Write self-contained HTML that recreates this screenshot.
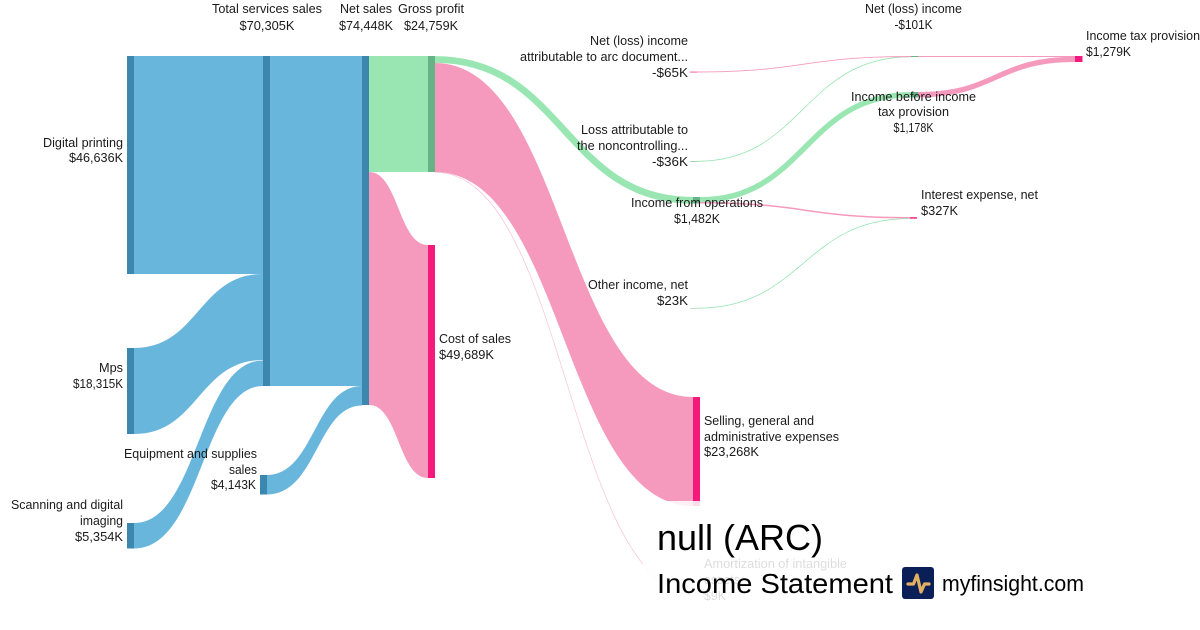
<!DOCTYPE html>
<html>
<head>
<meta charset="utf-8">
<style>
html,body{margin:0;padding:0;background:#fff;width:1200px;height:630px;overflow:hidden}
svg{display:block}
text{font-family:"Liberation Sans",sans-serif;font-size:12.8px;fill:#1a1a1a}
.b{fill:#69b6dd}
.g{fill:#99e6b2}
.p{fill:#f59abd}
.tg{fill:none;stroke:#99e6b2}
.tp{fill:none;stroke:#f59abd}
.nb{fill:#3c87ae}.ng{fill:#66b385}.np{fill:#f5197b}
.e{text-anchor:end}.m{text-anchor:middle}
</style>
</head>
<body>
<svg width="1200" height="630" viewBox="0 0 1200 630" xmlns="http://www.w3.org/2000/svg">
<!-- links -->
<rect class="b" x="134" y="56" width="129" height="218"/>
<path class="b" d="M134 348C198.500 348 198.500 274 263 274V360C198.500 360 198.500 434 134 434Z"/>
<path class="b" d="M134 523C198.500 523 198.500 360.500 263 360.500V386C202 386 202 548.500 134 548.500Z"/>
<rect class="b" x="270" y="56" width="92" height="330"/>
<path class="b" d="M267 475C314.500 475 314.500 386 362 386V405.500C317 405.500 317 494.500 267 494.500Z"/>
<rect class="g" x="369" y="56" width="59" height="116"/>
<path class="p" d="M369 172C398.500 172 398.500 245 428 245V478C398.500 478 398.500 405 369 405Z"/>
<path class="tg" stroke-width="6.800" d="M435 59.500C564 59.500 564 200.300 693 200.300"/>
<path class="p" d="M435 63C564 63 564 397 693 397V506C564 506 564 172 435 172Z"/>
<path class="tp" stroke-width="0.700" stroke-opacity="0.600" d="M435 172.300C567 172.300 567 596 700 596"/>
<path class="tg" stroke-width="5.500" d="M700 199.800C805 199.800 805 94.700 911 94.700"/>
<path class="tp" stroke-width="1.500" d="M700 202.700C805 202.700 805 217.700 910 217.700"/>
<path class="tg" stroke-width="0.800" d="M697 308.200C803 308.200 803 218.500 910 218.500"/>
<path class="tg" stroke-width="0.800" d="M697 161.300C803 161.300 803 56.800 911 56.800"/>
<path class="tp" stroke-width="0.900" d="M697 72C803 72 803 56.500 911 56.500"/>
<path class="tp" stroke-width="0.900" d="M918 56.500H1075"/>
<path class="tp" stroke-width="5.300" d="M918 94.700C996 94.700 996 59.400 1075 59.400"/>
<!-- nodes -->
<rect class="nb" x="127" y="56" width="7" height="218"/>
<rect class="nb" x="127" y="348" width="7" height="86"/>
<rect class="nb" x="127" y="523" width="7" height="25.500"/>
<rect class="nb" x="263" y="56" width="7" height="330"/>
<rect class="nb" x="260" y="475" width="7" height="19.500"/>
<rect class="nb" x="362" y="56" width="7" height="349"/>
<rect class="ng" x="428" y="56" width="7" height="116"/>
<rect class="np" x="428" y="245" width="7" height="233"/>
<rect class="ng" x="693" y="197" width="7" height="6.500"/>
<rect class="np" x="693" y="397" width="7" height="109"/>
<rect class="ng" x="690" y="161" width="7" height="0.600"/>
<rect class="np" x="690" y="71.700" width="7" height="0.700"/>
<rect class="ng" x="690" y="308" width="7" height="0.400"/>
<rect class="ng" x="911" y="92" width="7" height="5.500"/>
<rect class="ng" x="911" y="56" width="7" height="1"/>
<rect class="np" x="910" y="217" width="7" height="1.800" fill-opacity="0.800"/>
<rect class="np" x="1075" y="56" width="7.500" height="6"/>
<!-- labels -->
<text x="267" y="13" class="m" textLength="110" lengthAdjust="spacingAndGlyphs">Total services sales</text>
<text x="267" y="30" class="m" textLength="55" lengthAdjust="spacingAndGlyphs">$70,305K</text>
<text x="366" y="13" class="m" textLength="52" lengthAdjust="spacingAndGlyphs">Net sales</text>
<text x="366" y="30" class="m" textLength="54" lengthAdjust="spacingAndGlyphs">$74,448K</text>
<text x="431" y="13" class="m" textLength="66" lengthAdjust="spacingAndGlyphs">Gross profit</text>
<text x="431" y="30" class="m" textLength="54" lengthAdjust="spacingAndGlyphs">$24,759K</text>

<text x="123" y="147" class="e" textLength="80" lengthAdjust="spacingAndGlyphs">Digital printing</text>
<text x="123" y="162" class="e" textLength="54" lengthAdjust="spacingAndGlyphs">$46,636K</text>
<text x="123" y="372" class="e" textLength="24" lengthAdjust="spacingAndGlyphs">Mps</text>
<text x="123" y="388" class="e" textLength="50" lengthAdjust="spacingAndGlyphs">$18,315K</text>
<text x="257" y="458" class="e" textLength="133" lengthAdjust="spacingAndGlyphs">Equipment and supplies</text>
<text x="257" y="474" class="e" textLength="28" lengthAdjust="spacingAndGlyphs">sales</text>
<text x="256" y="489" class="e" textLength="45" lengthAdjust="spacingAndGlyphs">$4,143K</text>
<text x="123" y="509" class="e" textLength="112" lengthAdjust="spacingAndGlyphs">Scanning and digital</text>
<text x="123" y="525" class="e" textLength="43" lengthAdjust="spacingAndGlyphs">imaging</text>
<text x="123" y="541" class="e" textLength="48" lengthAdjust="spacingAndGlyphs">$5,354K</text>
<text x="439" y="343" textLength="72" lengthAdjust="spacingAndGlyphs">Cost of sales</text>
<text x="439" y="359" textLength="55" lengthAdjust="spacingAndGlyphs">$49,689K</text>

<text x="688" y="45" class="e" textLength="98" lengthAdjust="spacingAndGlyphs">Net (loss) income</text>
<text x="688" y="61" class="e" textLength="168" lengthAdjust="spacingAndGlyphs">attributable to arc document...</text>
<text x="688" y="77" class="e" textLength="36" lengthAdjust="spacingAndGlyphs">-$65K</text>
<text x="688" y="134" class="e" textLength="107" lengthAdjust="spacingAndGlyphs">Loss attributable to</text>
<text x="688" y="150" class="e" textLength="111" lengthAdjust="spacingAndGlyphs">the noncontrolling...</text>
<text x="688" y="166" class="e" textLength="36" lengthAdjust="spacingAndGlyphs">-$36K</text>
<text x="697" y="207" class="m" textLength="132" lengthAdjust="spacingAndGlyphs">Income from operations</text>
<text x="697" y="223" class="m" textLength="46" lengthAdjust="spacingAndGlyphs">$1,482K</text>
<text x="688" y="289" class="e" textLength="100" lengthAdjust="spacingAndGlyphs">Other income, net</text>
<text x="688" y="305" class="e" textLength="31" lengthAdjust="spacingAndGlyphs">$23K</text>
<text x="704" y="425" textLength="110" lengthAdjust="spacingAndGlyphs">Selling, general and</text>
<text x="704" y="441" textLength="135" lengthAdjust="spacingAndGlyphs">administrative expenses</text>
<text x="704" y="456" textLength="55" lengthAdjust="spacingAndGlyphs">$23,268K</text>
<text x="704" y="568" textLength="143" lengthAdjust="spacingAndGlyphs">Amortization of intangible</text>
<text x="704" y="584" textLength="36" lengthAdjust="spacingAndGlyphs">assets</text>
<text x="704" y="600" textLength="22" lengthAdjust="spacingAndGlyphs">$9K</text>

<text x="913.500" y="13" class="m" textLength="97" lengthAdjust="spacingAndGlyphs">Net (loss) income</text>
<text x="913.500" y="29" class="m" textLength="38" lengthAdjust="spacingAndGlyphs">-$101K</text>
<text x="913.500" y="101" class="m" textLength="125" lengthAdjust="spacingAndGlyphs">Income before income</text>
<text x="913.500" y="116" class="m" textLength="71" lengthAdjust="spacingAndGlyphs">tax provision</text>
<text x="913.500" y="132" class="m" textLength="40" lengthAdjust="spacingAndGlyphs">$1,178K</text>
<text x="921" y="199" textLength="117" lengthAdjust="spacingAndGlyphs">Interest expense, net</text>
<text x="921" y="215" textLength="37" lengthAdjust="spacingAndGlyphs">$327K</text>
<text x="1086" y="40" textLength="114" lengthAdjust="spacingAndGlyphs">Income tax provision</text>
<text x="1086" y="56" textLength="45" lengthAdjust="spacingAndGlyphs">$1,279K</text>

<!-- title overlay -->
<rect x="643" y="501" width="460" height="110" fill="#fff" fill-opacity="0.85"/>
<text x="657" y="550" style="font-size:36px;fill:#000" textLength="166" lengthAdjust="spacingAndGlyphs">null (ARC)</text>
<text x="657" y="593" style="font-size:28px;fill:#000" textLength="236" lengthAdjust="spacingAndGlyphs">Income Statement</text>
<rect x="902" y="567" width="32" height="32" rx="3" fill="#0a1f57"/>
<path d="M908 584H913.500L917 575L921 592L924.500 584H929" fill="none" stroke="#e3b062" stroke-width="3.200" stroke-linecap="round" stroke-linejoin="round"/>
<text x="942" y="591" style="font-size:22px;fill:#000" textLength="142" lengthAdjust="spacingAndGlyphs">myfinsight.com</text>
</svg>
</body>
</html>
